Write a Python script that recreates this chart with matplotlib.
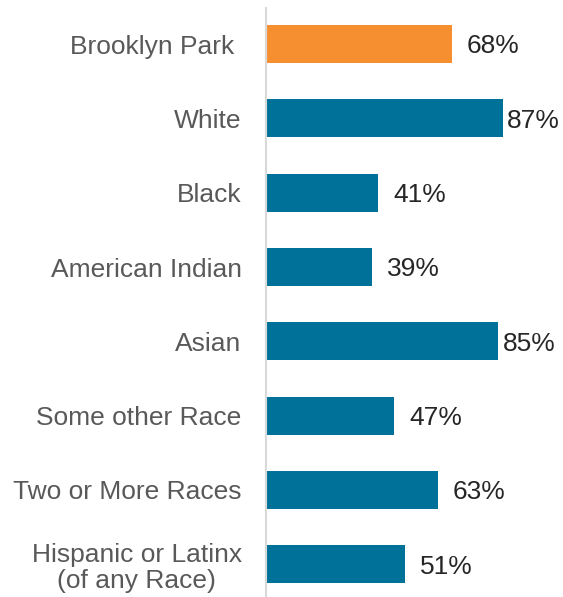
import matplotlib
matplotlib.use("Agg")
import matplotlib.pyplot as plt

categories = ["Brooklyn Park ", "White", "Black", "American Indian", "Asian",
              "Some other Race", "Two or More Races", "Hispanic or Latinx\n(of any Race)"]
values = [68, 87, 41, 39, 85, 47, 63, 51]
value_labels = ["68%", "87%", "41%", "39%", "85%", "47%", "63%", "51%"]
colors = ["#F58F2F"] + ["#007299"] * 7
label_gap = [5.5, 1.2, 5.5, 5.5, 1.8, 5.5, 5.5, 5.5]

fig = plt.figure(figsize=(5.63, 5.97), dpi=100)
ax = fig.add_axes([266 / 563, 0, (563 - 266) / 563, (597 - 8) / 597])
ypos = list(range(len(categories)))
ax.barh(ypos, values, height=0.51, color=colors)
ax.set_xlim(0, (563 - 267) / 2.72)
ax.set_ylim(7.44, -0.485)
ax.set_yticks(ypos)
ax.set_yticklabels(categories, fontsize=19, color="#595959", family="Liberation Sans",
                   linespacing=1.1, multialignment="center")
ax.tick_params(axis="y", length=0, pad=17.5)
ax.set_xticks([])
for s in ["top", "right", "bottom"]:
    ax.spines[s].set_visible(False)
ax.spines["left"].set_color("#D9D9D9")
ax.spines["left"].set_linewidth(1.5)
for y, v, lab, g in zip(ypos, values, value_labels, label_gap):
    ax.text(v + g, y + 0.03, lab, va="center", ha="left", fontsize=19, color="#262626",
            family="Liberation Sans")
fig.savefig("out.png", dpi=100)
